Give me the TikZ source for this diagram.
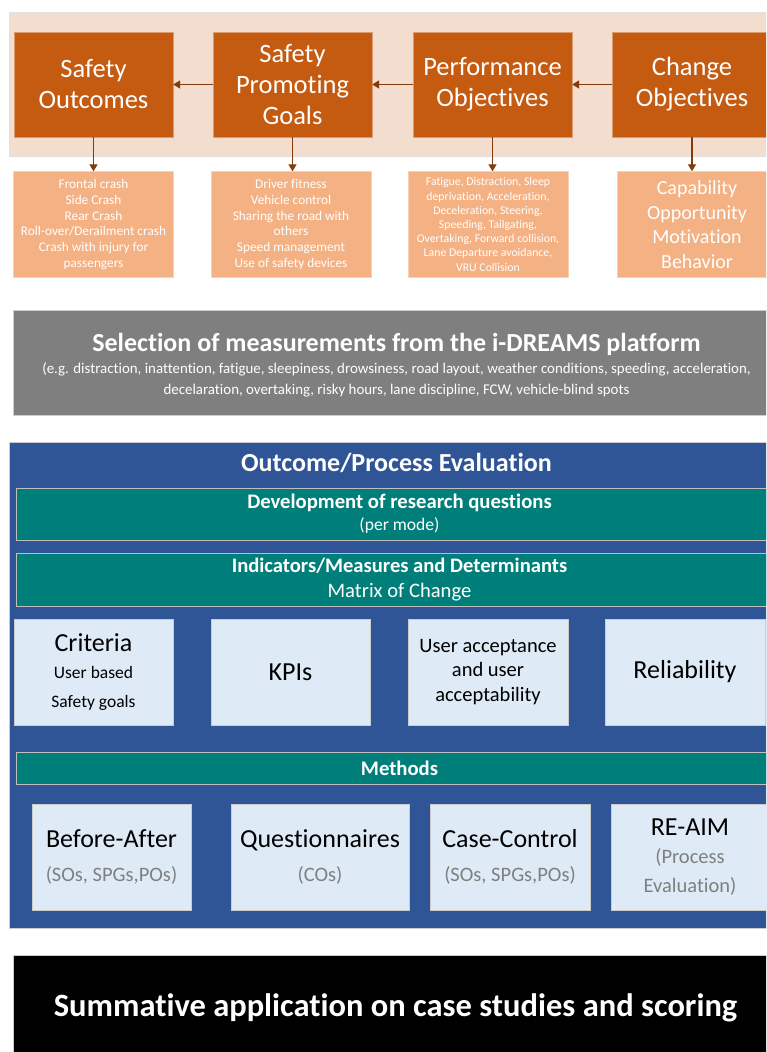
\documentclass[tikz,border=0pt]{standalone}
\usepackage{fontspec}
\setmainfont{Carlito}[Ligatures=NoCommon]
\usetikzlibrary{arrows.meta}
\definecolor{brick}{HTML}{C55A11}
\definecolor{peach}{HTML}{F4B183}
\definecolor{sand}{HTML}{F2DDCF}
\definecolor{rust}{HTML}{843C0C}
\definecolor{slate}{HTML}{7F7F7F}
\definecolor{navy}{HTML}{2F5597}
\definecolor{sea}{HTML}{007F7A}
\definecolor{ice}{HTML}{DEEBF7}
\newcommand{\fs}[2]{\fontsize{#1}{#2}\selectfont}
\begin{document}
\begin{tikzpicture}[x=1pt,y=-1pt,
 every node/.style={inner sep=0pt,align=center},
 obox/.style={fill=brick,draw=brick!60!white,minimum width=159pt,minimum height=105pt,text=white,font=\fs{26.5}{31}},
 pbox/.style={fill=peach,draw=peach!60!white,minimum width=160pt,minimum height=106pt,text=white},
 bar/.style={fill=sea,draw=black!25,minimum width=766pt,text=white},
 ibox/.style={fill=ice,draw=black!20,minimum height=106pt,text=black},
 note/.style={text=slate}]
 \clip (0,0) rectangle (766,1052);
 \node[fill=sand,draw=black!12,minimum width=800pt,minimum height=144pt] (band) at (409,84) {};
 \path
 (93.5,84.5) node[obox] (so) {Safety\\Outcomes} % <<< row 1
 ++(199,0) node[obox] (spg) {Safety\\Promoting\\Goals}
 ++(200,0) node[obox] (po) {Performance\\Objectives}
 ++(199.5,0) node[obox] (co) {Change\\Objectives}
 (93.5,224.5) node[pbox,font=\fs{13.3}{15.8}] (sol) {Frontal crash\\Side Crash\\Rear Crash\\Roll-over/Derailment crash\\Crash with injury for\\passengers} % <<< row 2
 ++(197.5,0) node[pbox,font=\fs{13.3}{15.8}] (spgl) {Driver fitness\\Vehicle control\\Sharing the road with\\others\\Speed management\\Use of safety devices}
 ++(197,0) node[pbox,font=\fs{11.8}{14.2}] (pol) {Fatigue, Distraction, Sleep\\deprivation, Acceleration,\\Deceleration, Steering,\\Speeding, Tailgating,\\Overtaking, Forward collision,\\Lane Departure avoidance,\\VRU Collision}
 ++(209,0) node[pbox,font=\fs{20}{24.6}] (col) {Capability\\Opportunity\\Motivation\\Behavior};
 \begin{scope}[rust,line width=1.3pt,-{Triangle[length=7pt,width=8pt]}]
 \draw (spg)--(so);
 \draw (po)--(spg);
 \draw (co)--(po);
 \draw (so.south)--(so.south|-sol.north);
 \draw (spg.south)--(spg.south|-spgl.north);
 \draw (po.south)--(po.south|-pol.north);
 \draw (co.south)--(co.south|-col.north);
 \end{scope}
 % platform
 \node[fill=slate,draw=black!20,minimum width=767pt,minimum height=105pt] (plat) at (396.5,362.5) {};
 \node[text=white,font=\bfseries\fs{26}{30}] (platt) at (396.5,344) {Selection of measurements from the i-DREAMS platform};
 \node[text=white,font=\fs{14.9}{21}] (platn) at (396.5,379.5) {(e.g. distraction, inattention, fatigue, sleepiness, drowsiness, road layout, weather conditions, speeding, acceleration,\\decelaration, overtaking, risky hours, lane discipline, FCW, vehicle-blind spots};
 % evaluation
 \node[fill=navy,draw=black!20,minimum width=775pt,minimum height=486pt] (eval) at (396.5,685) {};
 \node[text=white,font=\bfseries\fs{26}{30}] (evalt) at (396.5,463) {Outcome/Process Evaluation};
 \node[bar,minimum height=52pt,font=\fs{17.6}{22}] (rq) at (399.5,514) {\bfseries\fs{20.7}{22}Development of research questions\\(per mode)};
 \node[bar,minimum height=53pt,font=\fs{20.6}{25}] (ind) at (399.5,579.5) {\bfseries Indicators/Measures and Determinants\\Matrix of Change};
 \path
 (93.5,672) node[ibox,minimum width=159pt,font=\fs{17.5}{27}] (crit) {\fs{26}{27}Criteria\\User based\\[2pt]Safety goals}
 ++(197,0) node[ibox,minimum width=159pt,font=\fs{26}{30}] (kpi) {KPIs}
 ++(197.5,0) node[ibox,minimum width=160pt,font=\fs{20.5}{24.5}] (uacc) {User acceptance\\and user\\acceptability}
 ++(197,0) node[ibox,minimum width=160pt,font=\fs{26}{30}] (rel) {Reliability};
 \node[bar,minimum height=32pt,font=\bfseries\fs{20.7}{24}] (meth) at (399.5,768) {Methods};
 \path
 (111.5,857) node[ibox,minimum width=159pt,font=\fs{20.5}{34}] (ba) {\fs{26}{34}Before-After\\\color{slate}(SOs, SPGs,POs)}
 ++(208.5,0) node[ibox,minimum width=178pt,font=\fs{20.5}{34}] (quest) {\fs{26}{34}Questionnaires\\\color{slate}(COs)}
 ++(190,0) node[ibox,minimum width=160pt,font=\fs{20.5}{34}] (cc) {\fs{26}{34}Case-Control\\\color{slate}(SOs, SPGs,POs)}
 ++(180,0) node[ibox,minimum width=158pt,font=\fs{20.5}{28.5}] (reaim) {\fs{26}{28.5}RE-AIM\\\color{slate}(Process\\\color{slate}Evaluation)};
 % scoring
 \node[fill=black,draw=black!20,minimum width=765pt,minimum height=105pt,text=white,font=\bfseries\fs{32.5}{38}] (sum) at (395.5,1007.5) {Summative application on case studies and scoring};
\end{tikzpicture}
\end{document}
